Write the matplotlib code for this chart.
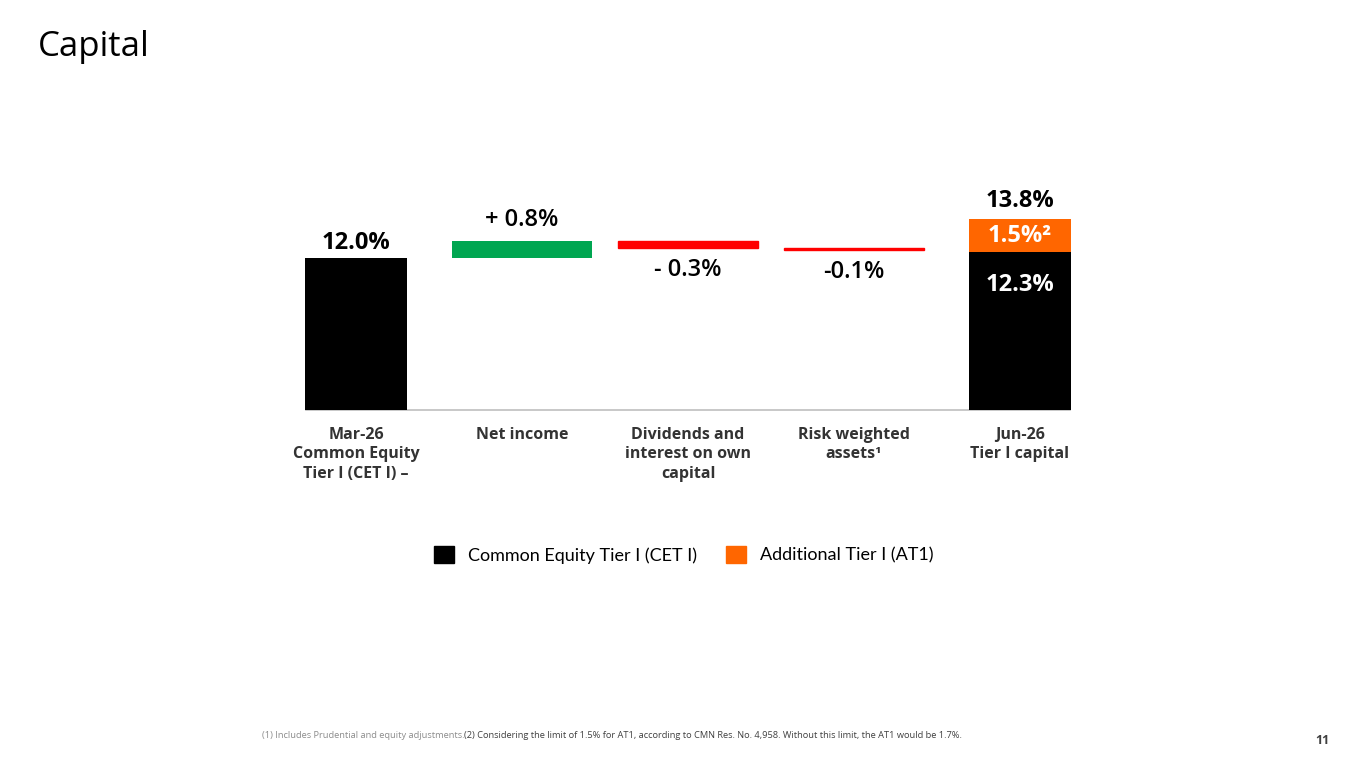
import numpy as np
import matplotlib.pyplot as plt
from matplotlib.patches import Patch

# datos
categorias = ["Mar-26\nCommon Equity\nTier I (CET I) \u2013", "Net income",
              "Dividends and\ninterest on own\ncapital", "Risk weighted\nassets\u00b9",
              "Jun-26\nTier I capital"]
cet1_inicio = 12.0
variaciones = [0.8, -0.3, -0.1]
etiquetas_var = ["+ 0.8%", "- 0.3%", "-0.1%"]
cet1_final = 12.3
at1_final = 1.5
total_final = 13.8

NEGRO = "#000000"
VERDE = "#00A651"
ROJO = "#FF0000"
NARANJA = "#FF6600"
FUENTE = ["Open Sans", "DejaVu Sans"]

fig = plt.figure(figsize=(13.65, 7.68), dpi=100)
fig.patch.set_facecolor("white")
# ejes ubicados en pixeles: base en y=410, arriba en y=150
ax = fig.add_axes([273 / 1365, 1 - 410 / 768, 830 / 1365, 260 / 768])
ax.set_xlim(-0.5, 4.5)
ax.set_ylim(5, 17)  # eje truncado, como en el original

x = np.arange(len(categorias))

# linea base gris
ax.plot([x[0] - 0.3, x[-1] + 0.3], [5.02, 5.02], color="#BFBFBF", lw=1.2, zorder=1,
        clip_on=False)

# barra inicial
ax.bar(x[0], cet1_inicio, width=0.61, color=NEGRO, zorder=3)
ax.annotate(f"{cet1_inicio:.1f}%", (x[0], cet1_inicio), xytext=(0, 11), textcoords="offset points",
            ha="center", va="center", fontsize=17, fontweight="bold", family=FUENTE)

# variaciones
acum = cet1_inicio
for i, (v, lab) in enumerate(zip(variaciones, etiquetas_var)):
    xi = x[i + 1]
    if v > 0:
        ax.bar(xi, v, bottom=acum, width=0.84, color=VERDE, lw=0, zorder=3)
        ax.annotate(lab, (xi, acum + v), xytext=(0, 15), textcoords="offset points",
                    ha="center", va="center", fontsize=17, family=FUENTE, fontweight="semibold")
    else:
        ax.bar(xi, v, bottom=acum, width=0.84, color=ROJO, edgecolor=ROJO, lw=1, zorder=3)
        ax.annotate(lab, (xi, acum + v), xytext=(0, -16), textcoords="offset points",
                    ha="center", va="center", fontsize=17, family=FUENTE, fontweight="semibold")
    acum += v

# barra final apilada
ax.bar(x[4], cet1_final, width=0.61, color=NEGRO, zorder=3)
ax.bar(x[4], at1_final, bottom=cet1_final, width=0.61, color=NARANJA, zorder=3)
ax.annotate(f"{total_final:.1f}%", (x[4], total_final), xytext=(0, 13), textcoords="offset points",
            ha="center", va="center", fontsize=17, fontweight="bold", family=FUENTE)
ax.annotate(f"{at1_final:.1f}%\u00b2", (x[4], cet1_final + at1_final / 2), ha="center", va="center",
            fontsize=17, fontweight="bold", color="white", family=FUENTE)
ax.annotate(f"{cet1_final:.1f}%", (x[4], cet1_final), xytext=(0, -24), textcoords="offset points",
            ha="center", va="center", fontsize=17, fontweight="bold", color="white", family=FUENTE)

ax.set_xticks(x)
ax.set_xticklabels(categorias, fontsize=11.5, fontweight="bold", color="#333333", family=FUENTE,
                   linespacing=1.3)
ax.tick_params(axis="x", length=0, pad=12)
ax.set_yticks([])
for s in ax.spines.values():
    s.set_visible(False)

# leyenda
handles = [Patch(color=NEGRO, label="Common Equity Tier I (CET I)"),
           Patch(color=NARANJA, label="Additional Tier I (AT1)")]
fig.legend(handles=handles, loc="center", bbox_to_anchor=(684 / 1365, 1 - 555 / 768), ncol=2,
           frameon=False, handlelength=1.1, handleheight=1.1, handletextpad=0.8, columnspacing=1.6,
           prop={"family": ["Lato", "DejaVu Sans"], "size": 13})

# titulo y notas
fig.text(38 / 1365, 1 - 47 / 768, "Capital", fontsize=25, family=FUENTE, va="center", ha="left")
t1 = fig.text(262 / 1365, 1 - 735 / 768, "(1) Includes Prudential and equity adjustments.",
              fontsize=6.7, color="#8C8C8C", family=FUENTE, va="center", ha="left")
fig.canvas.draw()
bb = t1.get_window_extent()
fig.text(bb.x1 / 1365, 1 - 735 / 768,
         "(2) Considering the limit of 1.5% for AT1, according to CMN Res. No. 4,958. "
         "Without this limit, the AT1 would be 1.7%.",
         fontsize=6.7, color="#404040", family=FUENTE, va="center", ha="left")
fig.text(1322 / 1365, 1 - 741 / 768, "11", fontsize=9, fontweight="bold", color="#404040",
         family=FUENTE, va="center", ha="center")

plt.savefig("out.png", dpi=100, facecolor="white")
